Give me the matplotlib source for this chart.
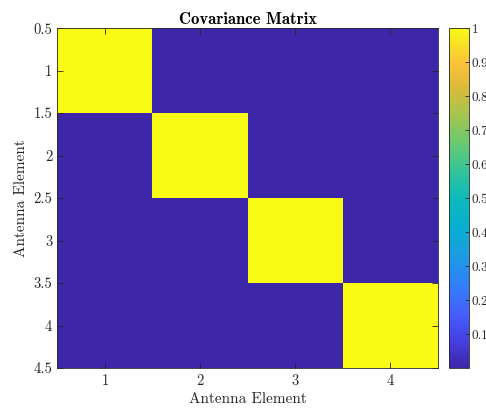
import numpy as np
import matplotlib
matplotlib.use('Agg')
import matplotlib.pyplot as plt
from matplotlib.colors import LinearSegmentedColormap

plt.rcParams['font.family'] = ['cmr10', 'DejaVu Serif']
plt.rcParams['mathtext.fontset'] = 'cm'
plt.rcParams['axes.formatter.use_mathtext'] = True

# covariance of the 4 antenna elements
elements = [1, 2, 3, 4]
cov_row1 = [1, 0, 0, 0]
cov_row2 = [0, 1, 0, 0]
cov_row3 = [0, 0, 1, 0]
cov_row4 = [0, 0, 0, 1]
ytick_vals = [0.5, 1, 1.5, 2, 2.5, 3, 3.5, 4, 4.5]
cbar_ticks = [0.1, 0.2, 0.3, 0.4, 0.5, 0.6, 0.7, 0.8, 0.9, 1]

cov = np.array([cov_row1, cov_row2, cov_row3, cov_row4], dtype=float)
edges = np.arange(len(elements) + 1) + 0.5

# parula-like colormap
parula_pts = [
    (0.00, (0.2422, 0.1504, 0.6603)),
    (0.08, (0.2760, 0.2500, 0.8900)),
    (0.16, (0.2700, 0.3750, 0.9950)),
    (0.25, (0.1900, 0.5100, 0.9800)),
    (0.33, (0.1100, 0.6100, 0.8900)),
    (0.42, (0.0300, 0.6900, 0.8100)),
    (0.50, (0.0500, 0.7300, 0.7300)),
    (0.58, (0.2000, 0.7700, 0.6000)),
    (0.67, (0.4300, 0.7900, 0.4300)),
    (0.75, (0.6600, 0.7700, 0.3000)),
    (0.83, (0.8700, 0.7300, 0.2200)),
    (0.90, (0.9950, 0.7600, 0.2300)),
    (0.95, (0.9700, 0.8700, 0.1500)),
    (1.00, (0.9769, 0.9839, 0.0805)),
]
parula = LinearSegmentedColormap.from_list('parula', parula_pts, N=256)

fig = plt.figure(figsize=(4.86, 4.08), dpi=100)
ax = fig.add_axes([0.1173, 0.098, 0.784, 0.833])
im = ax.pcolormesh(edges, edges, cov, cmap=parula, vmin=0, vmax=1,
                   shading='flat', antialiased=False, linewidth=0)
ax.set_xlim(0.5, 4.5)
ax.set_ylim(4.5, 0.5)

ax.set_xticks(elements)
ax.set_yticks(ytick_vals)
ax.set_yticklabels([('%g' % v) for v in ytick_vals])
ax.tick_params(direction='in', top=True, right=True, length=4, width=0.6,
               labelsize=10.5, color='#262626', labelcolor='#262626')
for s in ax.spines.values():
    s.set_linewidth(0.6)
    s.set_color('#262626')

ax.set_xlabel('Antenna Element', fontsize=11, color='#262626', labelpad=3)
ax.set_ylabel('Antenna Element', fontsize=11, color='#262626')
ax.set_title('Covariance Matrix', fontsize=12, fontweight='bold',
             family=['cmb10', 'DejaVu Serif'], pad=3)

cax = fig.add_axes([0.9239, 0.098, 0.0412, 0.833])
cb = fig.colorbar(im, cax=cax)
cb.set_ticks(cbar_ticks)
cb.set_ticklabels([('%g' % v) for v in cbar_ticks])
cax.tick_params(direction='in', length=3, width=0.6, labelsize=9.5,
                color='#262626', labelcolor='#262626', pad=2)
cb.outline.set_linewidth(0.6)
cb.outline.set_edgecolor('#262626')

fig.savefig('out.png', dpi=100)
